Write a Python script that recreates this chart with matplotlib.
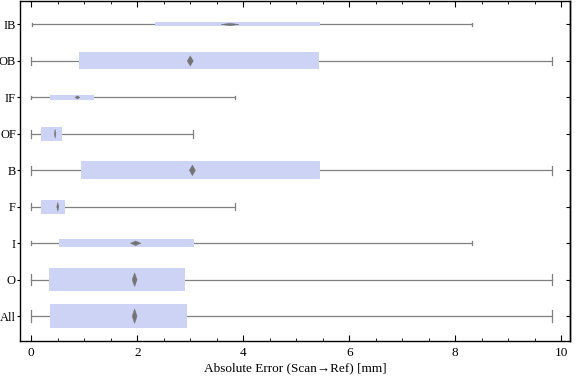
import matplotlib.pyplot as plt
from matplotlib.patches import Rectangle, Polygon
from matplotlib.ticker import MultipleLocator

# groups from bottom to top
labels = ["All", "O", "I", "F", "B", "OF", "IF", "OB", "IB"]
whisker_lo = [0.0, 0.0, 0.0, 0.0, 0.0, 0.0, 0.0, 0.0, 0.02]
q1 = [0.345, 0.33, 0.515, 0.19, 0.94, 0.19, 0.36, 0.905, 2.34]
q3 = [2.94, 2.90, 3.07, 0.64, 5.44, 0.585, 1.19, 5.43, 5.45]
whisker_hi = [9.82, 9.82, 8.31, 3.85, 9.82, 3.06, 3.85, 9.82, 8.31]
mean = [1.95, 1.95, 1.97, 0.50, 3.04, 0.45, 0.87, 3.00, 3.75]
mean_ci = [0.047, 0.047, 0.10, 0.02, 0.057, 0.015, 0.047, 0.057, 0.17]
# relative box thickness (sample size)
box_w = [0.665, 0.63, 0.21, 0.40, 0.485, 0.40, 0.145, 0.465, 0.11]

box_col = "#cdd3f5"
line_col = "#808080"
dia_col = "#747474"

plt.rcParams['font.family'] = ['Liberation Serif', 'DejaVu Serif']

fig = plt.figure(figsize=(5.76, 3.81), dpi=100)
ax = fig.add_axes([0.035, 0.105, 0.955, 0.892])

for i, lab in enumerate(labels):
    y = i + 1
    h = box_w[i]
    ax.plot([whisker_lo[i], whisker_hi[i]], [y, y], color=line_col, lw=0.9, zorder=1)
    cap = max(h * 0.5, 0.08)
    for xe in (whisker_lo[i], whisker_hi[i]):
        ax.plot([xe, xe], [y - cap / 2, y + cap / 2], color=line_col, lw=0.9, zorder=1)
    ax.add_patch(Rectangle((q1[i], y - h / 2), q3[i] - q1[i], h,
                           facecolor=box_col, edgecolor="none", zorder=2))
    dh = h * 0.3
    m = mean[i]
    c = mean_ci[i]
    ax.add_patch(Polygon([(m - c, y), (m, y + dh), (m + c, y), (m, y - dh)],
                         closed=True, facecolor=dia_col, edgecolor=dia_col,
                         lw=0.3, zorder=3))

ax.set_xlim(-0.21, 10.17)
ax.set_ylim(0.32, 9.64)
ax.set_yticks(range(1, len(labels) + 1))
ax.set_yticklabels(labels, fontsize=9)
ax.set_xticks([0, 2, 4, 6, 8, 10])
ax.xaxis.set_minor_locator(MultipleLocator(0.5))
ax.tick_params(axis='x', which='major', direction='in', top=True, bottom=True,
               length=4, width=0.8, labelsize=9.5, pad=4)
ax.tick_params(axis='x', which='minor', direction='in', top=True, bottom=True,
               length=2.2, width=0.6)
ax.tick_params(axis='y', which='both', direction='out', length=2, width=0.8, pad=1)
ax.yaxis.set_minor_locator(plt.NullLocator())

sec = ax.secondary_yaxis('right')
sec.set_yticks(range(1, len(labels) + 1))
sec.tick_params(direction='in', length=3, width=0.8, labelright=False)

for s in ax.spines.values():
    s.set_linewidth(1.0)
sec.spines['right'].set_linewidth(1.0)

ax.set_xlabel("Absolute Error (Scan\u2192Ref) [mm]", fontsize=9.5, labelpad=3)

fig.savefig("out.png", dpi=100)
